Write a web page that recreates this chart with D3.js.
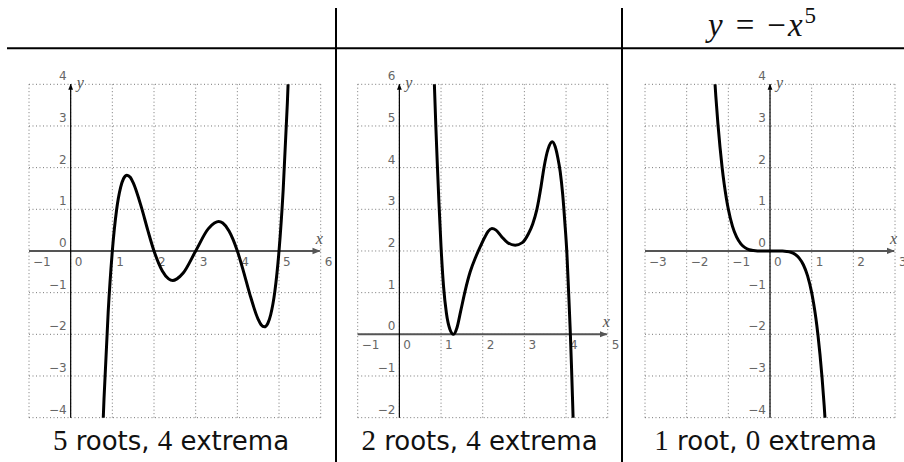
<!DOCTYPE html>
<html>
<head>
<meta charset="utf-8">
<script src="https://cdn.jsdelivr.net/npm/d3@7"></script>
<style>
  body { margin: 0; background: #fff; }
  svg { display: block; }
</style>
</head>
<body>
<div id="chart"></div>
<script>
// ---- data ----
var captionNums = [[5, 4], [2, 4], [1, 0]];
var captionWords = [["roots,", "extrema"], ["roots,", "extrema"], ["root,", "extrema"]];

var xDomain1 = [-1, 6], yDomain1 = [-4, 4];
var xDomain2 = [-1, 5], yDomain2 = [-2, 6];
var xDomain3 = [-3, 3], yDomain3 = [-4, 4];

// points along each curve [x, y]
var curve1 = [[0.76,-4.58],[0.8,-3.55],[0.9,-1.47],[1.0,0],[1.1,0.97],[1.2,1.53],[1.27,1.74],[1.35,1.82],
  [1.43,1.77],[1.5,1.64],[1.7,1.04],[1.85,0.50],[2.0,0],[2.2,-0.48],[2.35,-0.67],[2.45,-0.71],[2.55,-0.67],
  [2.7,-0.53],[3.0,0],[3.3,0.53],[3.45,0.67],[3.55,0.71],[3.65,0.67],[3.8,0.48],[4.0,0],[4.15,-0.50],
  [4.3,-1.04],[4.5,-1.64],[4.57,-1.77],[4.65,-1.82],[4.73,-1.74],[4.8,-1.53],[4.9,-0.97],[5.0,0],
  [5.1,1.47],[5.2,3.55],[5.24,4.58]];

var curve2 = [[0.80,7.2],[0.84,6.0],[0.875,5.0],[0.91,4.1],[0.95,3.15],[1.0,2.1],[1.06,1.15],[1.13,0.5],
  [1.21,0.13],[1.3,0],[1.38,0.15],[1.47,0.55],[1.58,1.05],[1.7,1.5],[1.83,1.85],[1.94,2.1],[2.05,2.33],
  [2.13,2.47],[2.22,2.54],[2.32,2.5],[2.45,2.35],[2.6,2.2],[2.78,2.14],[2.95,2.2],[3.1,2.42],[3.2,2.65],
  [3.3,3.0],[3.4,3.55],[3.47,4.0],[3.57,4.45],[3.67,4.62],[3.74,4.5],[3.80,4.25],[3.86,3.9],[3.92,3.35],
  [3.97,2.7],[4.02,1.95],[4.06,1.05],[4.10,0.1],[4.13,-0.75],[4.16,-1.7],[4.19,-2.7]];

var curve3 = [[-1.34,4.32],[-1.3,3.71],[-1.25,3.05],[-1.2,2.49],[-1.15,2.01],[-1.1,1.61],[-1.05,1.28],
  [-1.0,1.0],[-0.9,0.59],[-0.8,0.33],[-0.7,0.17],[-0.6,0.08],[-0.5,0.03],[-0.4,0.01],[-0.3,0.002],[0,0],
  [0.3,-0.002],[0.4,-0.01],[0.5,-0.03],[0.6,-0.08],[0.7,-0.17],[0.8,-0.33],[0.9,-0.59],[1.0,-1.0],
  [1.05,-1.28],[1.1,-1.61],[1.15,-2.01],[1.2,-2.49],[1.25,-3.05],[1.3,-3.71],[1.34,-4.32]];

var width = 904, height = 462, unit = 41.67, plotTop = 84.3;

var svg = d3.select("#chart").append("svg").attr("width", width).attr("height", height);

var defs = svg.append("defs");
defs.append("marker").attr("id", "arrY")
    .attr("viewBox", "0 0 10 10").attr("refX", 9).attr("refY", 5)
    .attr("markerWidth", 5).attr("markerHeight", 5).attr("orient", "auto")
  .append("path").attr("d", "M0,1 L10,5 L0,9 Z").attr("fill", "#000");
defs.append("marker").attr("id", "arrX")
    .attr("viewBox", "0 0 10 10").attr("refX", 9).attr("refY", 5)
    .attr("markerWidth", 4).attr("markerHeight", 4).attr("orient", "auto")
  .append("path").attr("d", "M0,1 L10,5 L0,9 Z").attr("fill", "#555");

// table rules
svg.append("line").attr("x1", 7).attr("x2", width).attr("y1", 48.3).attr("y2", 48.3)
  .attr("stroke", "#000").attr("stroke-width", 2);
[336, 622].forEach(function(x) {
  svg.append("line").attr("x1", x).attr("x2", x).attr("y1", 8).attr("y2", height)
    .attr("stroke", "#000").attr("stroke-width", 2);
});

// title  y = -x^5
var title = svg.append("text").attr("x", 708).attr("y", 36)
  .style("font-family", "'Liberation Serif', serif").style("font-size", "33px").attr("fill", "#111");
title.append("tspan").style("font-style", "italic").text("y");
title.append("tspan").attr("dx", 13).text("=");
title.append("tspan").attr("dx", 13).text("−");
title.append("tspan").attr("dx", 2).style("font-style", "italic").text("x");
title.append("tspan").attr("dx", 2).attr("dy", -13).style("font-size", "23px").text("5");

function fmt(v) { return v < 0 ? "−" + Math.abs(v) : "" + v; }

function drawPanel(id, left, xDomain, yDomain, data) {
  var x = d3.scaleLinear().domain(xDomain).range([left, left + (xDomain[1] - xDomain[0]) * unit]);
  var y = d3.scaleLinear().domain(yDomain).range([plotTop + (yDomain[1] - yDomain[0]) * unit, plotTop]);
  var g = svg.append("g");

  var xs = d3.range(xDomain[0], xDomain[1] + 1), ys = d3.range(yDomain[0], yDomain[1] + 1);

  // dotted grid
  g.selectAll(".gx").data(xs).enter().append("line")
    .attr("x1", function(d) { return x(d); }).attr("x2", function(d) { return x(d); })
    .attr("y1", y(yDomain[0])).attr("y2", y(yDomain[1]))
    .attr("stroke", "#777").attr("stroke-width", 1).attr("stroke-dasharray", "1,2.5");
  g.selectAll(".gy").data(ys).enter().append("line")
    .attr("y1", function(d) { return y(d); }).attr("y2", function(d) { return y(d); })
    .attr("x1", x(xDomain[0])).attr("x2", x(xDomain[1]))
    .attr("stroke", "#777").attr("stroke-width", 1).attr("stroke-dasharray", "1,2.5");

  // axes
  g.append("line").attr("x1", x(xDomain[0])).attr("x2", x(xDomain[1]) - 1)
    .attr("y1", y(0)).attr("y2", y(0))
    .attr("stroke", "#555").attr("stroke-width", 2).attr("marker-end", "url(#arrX)");
  g.append("line").attr("x1", x(0)).attr("x2", x(0))
    .attr("y1", y(yDomain[0])).attr("y2", y(yDomain[1]))
    .attr("stroke", "#000").attr("stroke-width", 1.2).attr("marker-end", "url(#arrY)");

  // tick labels
  g.selectAll(".tx").data(xs).enter().append("text")
    .attr("x", function(d) { return x(d) + 4; }).attr("y", y(0) + 15)
    .style("font-family", "'DejaVu Sans', sans-serif").style("font-size", "12px").attr("fill", "#666")
    .text(fmt);
  g.selectAll(".ty").data(ys).enter().append("text")
    .attr("x", x(0) - 4).attr("y", function(d) { return y(d) - 4; })
    .attr("text-anchor", "end")
    .style("font-family", "'DejaVu Sans', sans-serif").style("font-size", "12px").attr("fill", "#666")
    .text(fmt);

  g.append("text").attr("x", x(0) + 6).attr("y", y(yDomain[1]) + 4)
    .style("font-family", "'Liberation Serif', serif").style("font-style", "italic").style("font-size", "16px")
    .attr("fill", "#555").text("y");
  g.append("text").attr("x", x(xDomain[1]) - 5).attr("y", y(0) - 7)
    .style("font-family", "'Liberation Serif', serif").style("font-style", "italic").style("font-size", "16px")
    .attr("fill", "#555").text("x");

  // clipped curve
  defs.append("clipPath").attr("id", "clip" + id).append("rect")
    .attr("x", x(xDomain[0])).attr("y", y(yDomain[1]))
    .attr("width", x(xDomain[1]) - x(xDomain[0])).attr("height", y(yDomain[0]) - y(yDomain[1]));
  var line = d3.line().x(function(d) { return x(d[0]); }).y(function(d) { return y(d[1]); })
    .curve(d3.curveMonotoneX);
  g.append("path").datum(data).attr("clip-path", "url(#clip" + id + ")")
    .attr("d", line).attr("fill", "none").attr("stroke", "#000").attr("stroke-width", 3)
    .attr("stroke-linejoin", "round");
}

drawPanel(1, 29, xDomain1, yDomain1, curve1);
drawPanel(2, 357.7, xDomain2, yDomain2, curve2);
drawPanel(3, 645, xDomain3, yDomain3, curve3);

// captions: digits in serif, words in sans
var capX = [171, 479.5, 765.7];
capX.forEach(function(cx, i) {
  var t = svg.append("text").attr("x", cx).attr("y", 450).attr("text-anchor", "middle")
    .style("font-size", "26px").attr("fill", "#111");
  t.append("tspan").style("font-family", "'Liberation Serif', serif").style("font-size", "29px").text(captionNums[i][0]);
  t.append("tspan").style("font-family", "'DejaVu Sans', sans-serif").text(" " + captionWords[i][0] + " ");
  t.append("tspan").style("font-family", "'Liberation Serif', serif").style("font-size", "29px").text(captionNums[i][1]);
  t.append("tspan").style("font-family", "'DejaVu Sans', sans-serif").text(" " + captionWords[i][1]);
});
</script>
</body>
</html>
